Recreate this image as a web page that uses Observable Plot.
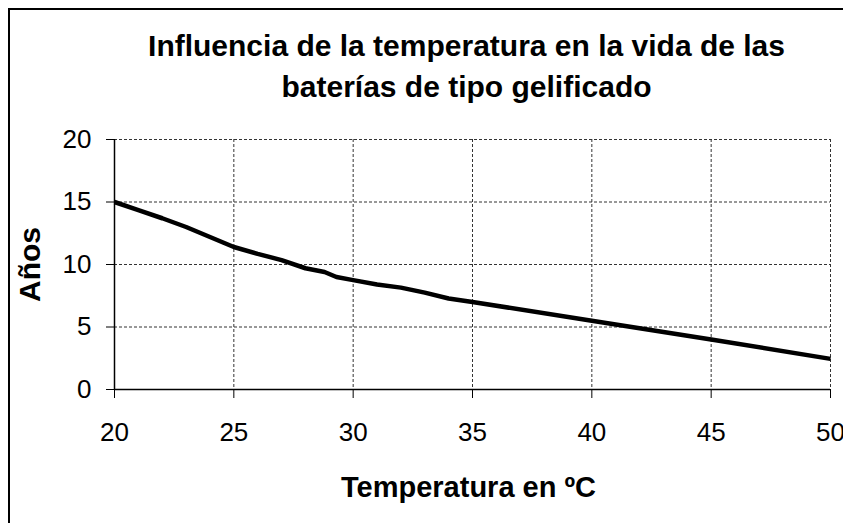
<!DOCTYPE html>
<html>
<head>
<meta charset="utf-8">
<script src="https://cdn.jsdelivr.net/npm/d3@7"></script>
<script src="https://cdn.jsdelivr.net/npm/@observablehq/plot@0.6"></script>
<style>
  html, body { margin: 0; padding: 0; background: #fff; }
  #wrap { position: relative; width: 843px; height: 523px; overflow: hidden; background: #fff;
          font-family: "Liberation Sans", Arial, sans-serif; }
  #border { position: absolute; left: 8px; top: 8px; width: 900px; height: 600px;
            border-top: 2px solid #000; border-left: 2px solid #000; pointer-events: none; }
  #title { position: relative; height: 120px; box-sizing: border-box; padding-top: 25px;
           font-weight: bold; font-size: 30px; line-height: 41px; color: #000; }
  #title div { width: 843px; margin-left: 45px; text-align: center; }
  #chart svg { display: block; }
</style>
</head>
<body>
<div id="wrap">
  <div id="border"></div>
  <div id="title"><div id="t"></div></div>
  <div id="chart"></div>
</div>
<script>
const titleLines = ["Influencia de la temperatura en la vida de las", "baterías de tipo gelificado"];
const xLabel = "Temperatura en ºC";
const yLabel = "Años";
const xTicks = [20, 25, 30, 35, 40, 45, 50];
const yTicks = [0, 5, 10, 15, 20];
const temperature = [20, 21, 22, 23, 24, 25, 26, 27, 28, 28.8, 29.3, 30, 31, 32, 33, 34, 35, 40, 45, 50];
const years = [15, 14.35, 13.7, 13.0, 12.2, 11.4, 10.85, 10.35, 9.7, 9.4, 9.0, 8.75, 8.4, 8.15, 7.75, 7.28, 7.0, 5.5, 4.0, 2.45];

document.getElementById("t").innerHTML = titleLines.join("<br>");

const data = temperature.map((t, i) => ({t, y: years[i]}));
const font = "Liberation Sans, Arial, sans-serif";

const chart = Plot.plot({
  width: 843,
  height: 403,
  marginTop: 19,
  marginBottom: 134,
  marginLeft: 114,
  marginRight: 13,
  style: {fontFamily: font, fontSize: "26px", color: "#000", background: "transparent", overflow: "visible"},
  x: {domain: [20, 50], ticks: xTicks, tickSize: 9, tickPadding: 24, label: null},
  y: {domain: [0, 20], ticks: yTicks, tickSize: 8, tickPadding: 15, label: null},
  marks: [
    Plot.gridX(xTicks, {stroke: "#333", strokeOpacity: 1, strokeWidth: 1, strokeDasharray: "3,2"}),
    Plot.gridY(yTicks, {stroke: "#333", strokeOpacity: 1, strokeWidth: 1, strokeDasharray: "3,2"}),
    Plot.ruleX([xTicks[0]], {stroke: "#000", strokeWidth: 1.5}),
    Plot.ruleY([yTicks[0]], {stroke: "#000", strokeWidth: 1.5}),
    Plot.line(data, {x: "t", y: "y", stroke: "#000", strokeWidth: 4.5, strokeLinejoin: "round", strokeLinecap: "butt"}),
    Plot.text([xLabel], {frameAnchor: "bottom", text: d => d, textAnchor: "middle", lineAnchor: "middle", dy: 98, dx: -4, fontSize: 29, fontWeight: "bold", fill: "#000"}),
    Plot.text([yLabel], {frameAnchor: "left", text: d => d, textAnchor: "middle", lineAnchor: "middle", rotate: -90, dx: -84, fontSize: 30, fontWeight: "bold", fill: "#000"})
  ]
});
document.getElementById("chart").appendChild(chart);
</script>
</body>
</html>
